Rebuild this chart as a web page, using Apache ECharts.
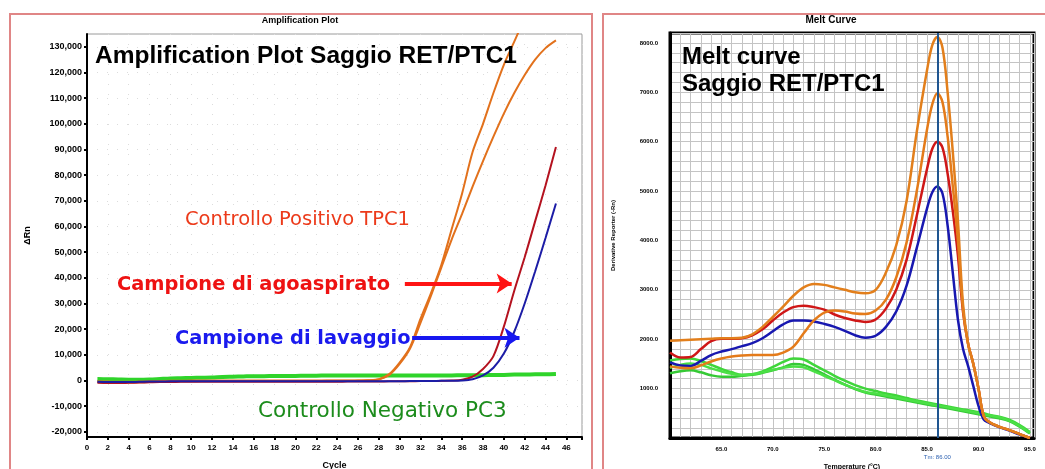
<!DOCTYPE html>
<html><head><meta charset="utf-8">
<script src="https://cdn.jsdelivr.net/npm/echarts@6/dist/echarts.min.js"></script>
<style>html,body{margin:0;padding:0;background:#fff}#c{width:1045px;height:469px}</style>
</head><body><div id="c"></div>
<script>
// ---------- Amplification plot data ----------
const cycles = [1,2,3,4,5,6,7,8,9,10,11,12,13,14,15,16,17,18,19,20,21,22,23,24,25,26,27,28,29,30,31,32,33,34,35,36,37,38,39,40,41,42,43,44,45];
const ampYTicks = [-20000,-10000,0,10000,20000,30000,40000,50000,60000,70000,80000,90000,100000,110000,120000,130000];
const posCtrl1 = [-300,-400,-500,-500,-400,-300,-200,-100,-100,0,0,0,0,0,0,0,0,0,0,0,0,0,0,0,0,0,100,
  500,2500,7000,13000,24000,34000,45000,59000,73000,89000,100000,112000,123000,132000,141000,148000,154000,159000];
const posCtrl2 = [-600,-700,-800,-800,-700,-600,-500,-400,-300,-300,-200,-200,-200,-200,-200,-200,-200,-200,-200,-200,-200,-200,-100,-100,-100,0,100,
  400,2200,6500,12500,22500,33000,44000,55000,65000,75500,85500,95000,104000,112000,119000,125000,129500,132500];
const agoaspirato = [-900,-1000,-1000,-900,-800,-700,-600,-600,-500,-500,-500,-500,-500,-500,-500,-500,-500,-500,-500,-500,-500,-500,-500,-500,-400,-400,-400,-400,-300,-300,-300,-200,-200,-100,0,
  300,1500,4500,9500,21000,35000,48000,62000,76000,91000];
const lavaggio = [-500,-600,-600,-600,-500,-400,-400,-300,-300,-300,-300,-300,-300,-300,-300,-300,-300,-300,-300,-300,-300,-300,-300,-300,-300,-300,-300,-300,-300,-300,-200,-200,-200,-100,-100,0,
  500,2000,5000,10500,19000,30000,42500,55500,69000];
const negCtrl = [600,500,400,300,300,400,600,800,900,1000,1100,1200,1400,1500,1600,1700,1700,1800,1800,1800,1900,1900,2000,2000,2000,2000,2000,2000,2000,2000,2000,2000,2000,2000,2000,2100,2100,2100,2200,2200,2300,2300,2400,2400,2500];
const redArrow = [[30.5, 37800], [40.75, 37800]];
const blueArrow = [[31.2, 16700], [41.5, 16700]];

// ---------- Melt curve data ----------
const meltTemps = [60,61,62,63,64,65,66,67,68,69,70,71,72,73,74,75,76,77,78,79,80,81,82,83,84,85,85.5,86,86.5,87,87.5,88,88.5,89,89.5,90,90.5,91,92,93,94,95];
const meltOrangeA = [1970,1980,1990,2000,2010,2020,2020,2030,2100,2250,2450,2660,2880,3050,3120,3100,3050,3000,2950,2930,3000,3350,3900,4790,6200,7450,7950,8120,7900,7000,5800,4400,2700,1900,1500,1000,450,330,230,160,80,0];
const meltOrangeB = [1450,1420,1410,1470,1550,1610,1650,1670,1680,1680,1680,1730,1850,2120,2380,2540,2580,2560,2520,2510,2580,2800,3250,3950,5000,6250,6750,6980,6800,6100,5100,4000,2600,1900,1500,1000,450,330,230,160,80,0];
const meltRed = [1730,1630,1640,1800,1960,2010,2010,2020,2080,2200,2380,2540,2650,2680,2650,2600,2500,2430,2380,2350,2400,2620,3000,3600,4500,5450,5850,6000,5880,5350,4600,3700,2550,1900,1500,1000,450,330,230,160,80,0];
const meltBlue = [1530,1470,1460,1560,1680,1750,1800,1860,1920,2020,2160,2300,2380,2380,2360,2310,2250,2170,2080,2030,2070,2250,2560,3080,3850,4650,4970,5090,4950,4300,3350,2400,1800,1450,1050,650,380,310,220,150,70,0];
const meltGreen1 = [1570,1600,1610,1560,1480,1400,1330,1280,1290,1350,1440,1540,1610,1590,1480,1370,1260,1160,1070,1000,950,900,860,810,760,720,700,680,660,640,620,600,580,560,540,520,500,470,430,370,260,120];
const meltGreen2 = [1310,1350,1370,1330,1270,1240,1240,1260,1280,1320,1370,1430,1500,1480,1390,1290,1180,1080,990,920,880,840,800,760,720,680,660,640,620,600,580,560,540,520,500,480,460,440,400,340,230,90];
const meltGreen3 = [1420,1480,1510,1480,1410,1350,1300,1270,1290,1330,1380,1420,1450,1430,1350,1260,1170,1080,1000,930,900,860,820,780,740,700,680,660,640,620,600,580,560,540,520,500,480,460,420,350,240,100];
const meltTm = 86;
const meltYLabels = [1000,2000,3000,4000,5000,6000,7000,8000];
const meltXLabels = [65,70,75,80,85,90,95];

// ---------- helpers ----------
const pairs = (xs, ys) => xs.map((x, i) => [x, ys[i]]);
const SANS = 'Liberation Sans, Arial, sans-serif';

function ampLine(name, vals, color, width, extra) {
  return Object.assign({
    name, type: 'line', xAxisIndex: 0, yAxisIndex: 0,
    data: pairs(cycles, vals), showSymbol: false, smooth: 0.3,
    lineStyle: { color, width }, itemStyle: { color }, z: 3
  }, extra || {});
}
function meltLine(name, vals, color, width, extra) {
  return Object.assign({
    name, type: 'line', xAxisIndex: 1, yAxisIndex: 1,
    data: pairs(meltTemps, vals), showSymbol: false, smooth: 0.35,
    lineStyle: { color, width }, itemStyle: { color }, z: 3
  }, extra || {});
}
function arrow(pts, color) {
  return {
    silent: true, symbol: ['none', 'arrow'], symbolSize: 15,
    label: { show: false },
    lineStyle: { color, width: 4, type: 'solid' },
    data: [[{ coord: pts[0] }, { coord: pts[1] }]]
  };
}

const chart = echarts.init(document.getElementById('c'), null, { renderer: 'canvas' });
chart.setOption({
  backgroundColor: '#fff',
  animation: false,
  grid: [
    { left: 87, top: 34, width: 495, height: 403, outerBoundsMode: 'none', containLabel: false, show: true, borderColor: '#9a9a9a', borderWidth: 1, backgroundColor: '#fff' },
    { left: 670, top: 33, width: 364, height: 405, outerBoundsMode: 'none', containLabel: false, show: true, borderColor: '#000', borderWidth: 3, backgroundColor: '#fff' }
  ],
  xAxis: [
    {
      gridIndex: 0, type: 'value', min: 0, max: 47.5, interval: 2,
      axisLine: { show: true, onZero: false, lineStyle: { color: '#000', width: 2 } },
      axisTick: { show: true, length: 3, lineStyle: { color: '#000', width: 2 } },
      axisLabel: { fontSize: 8, fontWeight: 'bold', color: '#000', margin: 7, fontFamily: SANS,
        formatter: v => (Number.isInteger(v) && v % 2 === 0) ? String(v) : '' },
      splitLine: { show: true, lineStyle: { color: '#dcdcdc', width: 1, type: [1, 9] } },
      name: 'Cycle', nameLocation: 'middle', nameGap: 24,
      nameTextStyle: { fontSize: 9, fontWeight: 'bold', color: '#000', fontFamily: SANS }
    },
    {
      gridIndex: 1, type: 'value', min: 60, max: 95.4, interval: 1,
      axisLine: { show: true, onZero: false, lineStyle: { color: '#000', width: 3 } },
      axisTick: { show: false },
      axisLabel: { fontSize: 6, fontWeight: 'bold', color: '#000', margin: 8, fontFamily: SANS,
        formatter: v => meltXLabels.includes(v) ? v.toFixed(1) : '' },
      splitLine: { show: true, lineStyle: { color: '#c4c4c4', width: 1 } },
      name: 'Temperature (°C)', nameLocation: 'middle', nameGap: 26,
      nameTextStyle: { fontSize: 7, fontWeight: 'bold', color: '#000', fontFamily: SANS }
    }
  ],
  yAxis: [
    {
      gridIndex: 0, type: 'value', min: -22000, max: 135000,
      axisLine: { show: true, onZero: false, lineStyle: { color: '#000', width: 2 } },
      axisTick: { show: true, customValues: ampYTicks, length: 3, lineStyle: { color: '#000', width: 2 } },
      axisLabel: { customValues: ampYTicks, fontSize: 9, fontWeight: 'bold', color: '#000', margin: 5, fontFamily: SANS,
        formatter: v => Number(v).toLocaleString('en-US') },
      splitLine: { show: true, lineStyle: { color: '#dcdcdc', width: 1, type: [1, 9] } },
      name: 'ΔRn', nameLocation: 'middle', nameGap: 55,
      nameTextStyle: { fontSize: 9, fontWeight: 'bold', color: '#000', fontFamily: SANS }
    },
    {
      gridIndex: 1, type: 'value', min: 0, max: 8200, interval: 200,
      axisLine: { show: true, onZero: false, lineStyle: { color: '#000', width: 3 } },
      axisTick: { show: false },
      axisLabel: { fontSize: 6, fontWeight: 'bold', color: '#000', margin: 12, fontFamily: SANS,
        formatter: v => meltYLabels.includes(v) ? v.toFixed(1) : '' },
      splitLine: { show: true, lineStyle: { color: '#c4c4c4', width: 1 } },
      name: 'Derivative Reporter (-Rn)', nameLocation: 'middle', nameGap: 54,
      nameTextStyle: { fontSize: 6, fontWeight: 'bold', color: '#000', fontFamily: SANS }
    }
  ],
  series: [
    ampLine('Controllo Negativo PC3', negCtrl, '#2fd42a', 4),
    ampLine('Controllo Positivo TPC1 a', posCtrl1, '#e2711c', 2),
    ampLine('Controllo Positivo TPC1 b', posCtrl2, '#e2711c', 2),
    ampLine('Campione di agoaspirato', agoaspirato, '#b4121f', 2, { markLine: arrow(redArrow, '#ff1414') }),
    ampLine('Campione di lavaggio', lavaggio, '#1c1ca6', 2, { markLine: arrow(blueArrow, '#1717f0') }),

    meltLine('Verde 1', meltGreen1, '#3fd63a', 2.5),
    meltLine('Verde 2', meltGreen2, '#35c935', 2.5),
    meltLine('Verde 3', meltGreen3, '#4be046', 2.5),
    meltLine('Blu', meltBlue, '#1818b0', 2.5),
    meltLine('Rosso', meltRed, '#cf1717', 2.5),
    meltLine('Arancio B', meltOrangeB, '#e47b1a', 2.5),
    meltLine('Arancio A', meltOrangeA, '#e27f1c', 2.5, {
      markLine: {
        silent: true, symbol: ['none', 'none'],
        lineStyle: { color: '#1f5590', width: 2, type: 'solid' },
        label: { show: true, position: 'start', formatter: 'Tm: 86.00', color: '#2a5fb0', fontSize: 6, distance: 16, fontFamily: SANS },
        data: [{ xAxis: meltTm }]
      }
    })
  ],
  graphic: [
    { type: 'rect', shape: { x: 10, y: 14, width: 582, height: 470 }, style: { fill: 'none', stroke: '#e08686', lineWidth: 2 }, z: 100 },
    { type: 'rect', shape: { x: 603, y: 14, width: 470, height: 470 }, style: { fill: 'none', stroke: '#e08686', lineWidth: 2 }, z: 100 },
    { type: 'text', x: 300, y: 21, style: { text: 'Amplification Plot', fill: '#000', font: 'bold 9px ' + SANS, textAlign: 'center', textVerticalAlign: 'middle' }, z: 100 },
    { type: 'text', x: 831, y: 20, style: { text: 'Melt Curve', fill: '#000', font: 'bold 10px ' + SANS, textAlign: 'center', textVerticalAlign: 'middle' }, z: 100 },
    { type: 'text', x: 95, y: 56, style: { text: 'Amplification Plot Saggio RET/PTC1', fill: '#000', font: 'bold 24.5px ' + SANS, textAlign: 'left', textVerticalAlign: 'middle' }, z: 100 },
    { type: 'text', x: 682, y: 57, style: { text: 'Melt curve', fill: '#000', font: 'bold 24px ' + SANS, textAlign: 'left', textVerticalAlign: 'middle' }, z: 100 },
    { type: 'text', x: 682, y: 84, style: { text: 'Saggio RET/PTC1', fill: '#000', font: 'bold 24px ' + SANS, textAlign: 'left', textVerticalAlign: 'middle' }, z: 100 },
    { type: 'text', x: 185, y: 220, style: { text: 'Controllo Positivo TPC1', fill: '#ec3a1a', font: '19.5px DejaVu Sans, sans-serif', textAlign: 'left', textVerticalAlign: 'middle' }, z: 100 },
    { type: 'text', x: 117, y: 285, style: { text: 'Campione di agoaspirato', fill: '#ee1212', font: 'bold 19.4px DejaVu Sans, sans-serif', textAlign: 'left', textVerticalAlign: 'middle' }, z: 100 },
    { type: 'text', x: 175, y: 339, style: { text: 'Campione di lavaggio', fill: '#1a1aee', font: 'bold 19.4px DejaVu Sans, sans-serif', textAlign: 'left', textVerticalAlign: 'middle' }, z: 100 },
    { type: 'text', x: 258, y: 411, style: { text: 'Controllo Negativo PC3', fill: '#1c8c1c', font: '21.5px DejaVu Sans, sans-serif', textAlign: 'left', textVerticalAlign: 'middle' }, z: 100 }
  ]
});
</script>
</body></html>
